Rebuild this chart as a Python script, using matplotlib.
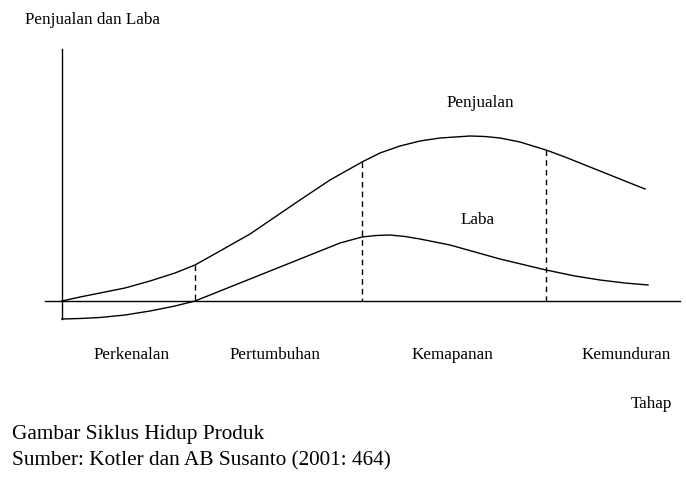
import matplotlib
matplotlib.use("Agg")
import matplotlib.pyplot as plt

plt.rcParams['font.family'] = ['Liberation Serif']

sales_x = [62, 80, 100, 125, 150, 175, 195, 220, 250, 275, 300, 330, 362, 380, 400, 420, 440, 455, 470, 485, 500, 520, 546, 565, 580, 600, 615, 630, 645]
sales_y = [302, 298, 294, 289, 282, 274, 266, 252, 235, 218, 201, 181, 163, 154, 147, 142, 139, 138, 137, 137.5, 139, 143, 151, 158, 164, 172, 178, 184, 190]
profit_x = [62, 80, 100, 125, 150, 175, 195, 220, 250, 275, 300, 320, 340, 362, 376, 390, 405, 420, 450, 475, 500, 525, 546, 575, 600, 625, 648]
profit_y = [320, 319.5, 318.5, 316, 312, 307, 302, 292, 280, 270, 260, 252, 244, 238, 236.5, 236, 237.5, 240, 246, 253, 260, 266, 271, 277, 281, 284, 286]
stage_x = [195, 362, 546]
stage_top = [266, 163, 151]
stages = ["Perkenalan", "Pertumbuhan", "Kemapanan", "Kemunduran"]
stage_label_x = [132, 275, 453, 626]

fig = plt.figure(figsize=(6.86, 4.81), dpi=100)
ax = fig.add_axes([0, 0, 1, 1])
ax.set_xlim(0, 686)
ax.set_ylim(481, 0)
ax.axis('off')

ax.plot([62, 62], [50, 320], color='black', lw=1)
ax.plot([45, 680], [302, 302], color='black', lw=1)
ax.plot(sales_x, sales_y, color='black', lw=1)
ax.plot(profit_x, profit_y, color='black', lw=1)
for x, t in zip(stage_x, stage_top):
    ax.plot([x, x], [t, 302], color='black', lw=1, ls=(0, (4, 3)))

fs = 12.3
ax.text(25, 20, "Penjualan dan Laba", fontsize=fs, va='center')
ax.text(480, 103, "Penjualan", fontsize=fs, ha='center', va='center')
ax.text(478, 220, "Laba", fontsize=fs, ha='center', va='center')
for s, x in zip(stages, stage_label_x):
    ax.text(x, 355, s, fontsize=fs, ha='center', va='center')
ax.text(651, 404, "Tahap", fontsize=fs, ha='center', va='center')
ax.text(12, 435, "Gambar Siklus Hidup Produk", fontsize=15.3, va='center')
ax.text(12, 461, "Sumber: Kotler dan AB Susanto (2001: 464)", fontsize=15.3, va='center')

fig.savefig("out.png", dpi=100)
